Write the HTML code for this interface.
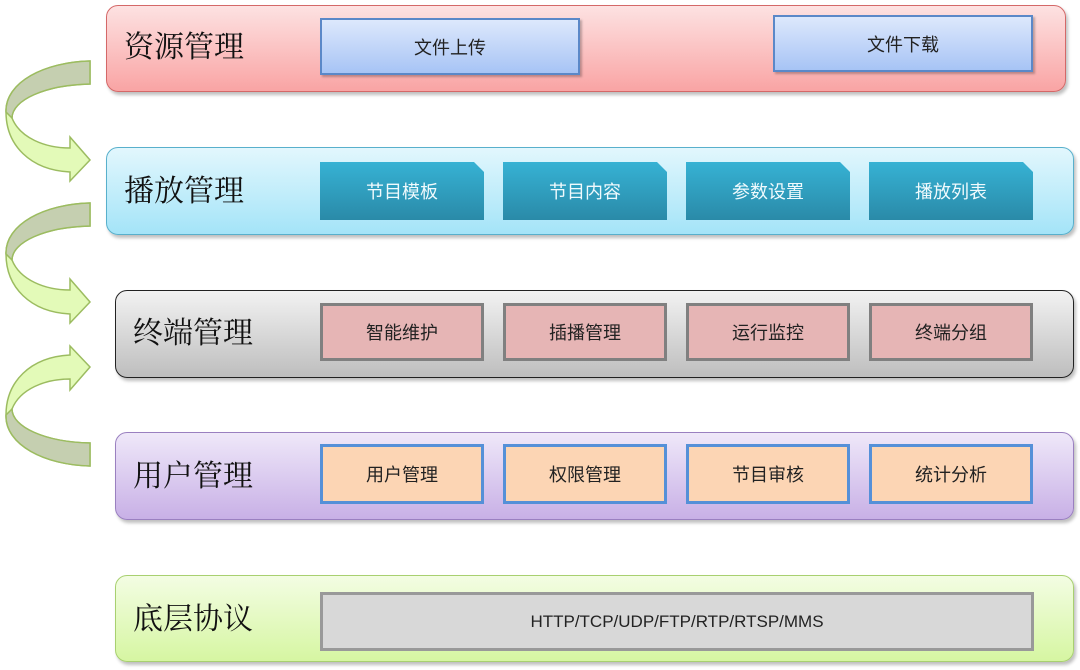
<!DOCTYPE html>
<html><head><meta charset="utf-8"><style>
body{margin:0;width:1080px;height:670px;background:#fff;position:relative;overflow:hidden;font-family:"Liberation Sans","Noto Sans CJK SC",sans-serif}
.row{position:absolute;border-radius:12px;box-shadow:2px 3px 3px rgba(0,0,0,.25)}
.lab{position:absolute;font-family:"Liberation Serif","Noto Serif CJK SC",serif;font-size:30px;color:#111;line-height:1}
.b{position:absolute;display:flex;align-items:center;justify-content:center;font-size:18px;color:#222;box-sizing:border-box}
.blue{background:linear-gradient(#dde8fc,#a7c4f5);border:2px solid #5b88c8;box-shadow:2px 2px 2px rgba(0,0,0,.25)}
.teal{background:linear-gradient(#36b2d4,#2a8aa8);color:#f0fafd;clip-path:polygon(0 0,calc(100% - 10px) 0,100% 10px,100% 100%,0 100%);box-shadow:2px 2px 2px rgba(0,0,0,.3)}
.pink{background:#e6b5b5;border:3px solid #808080}
.org{background:#fcd5b4;border:3px solid #5590d8}
.gray{background:#d8d8d8;border:3px solid #999}
</style></head><body>
<svg width="110" height="670" style="position:absolute;left:0;top:0">
<defs><g id="arr">
<path d="M90,61 C45,62 5,82 6,112 C6,145 30,170 70,172 L70,181 L90,160 L70,137 L70,148 C45,148 20,138 12,118 C12,100 45,85 90,84 Z" fill="#e3fab8" stroke="#9cbc60" stroke-width="1.5"/>
<path d="M90,61 C45,62 5,82 6,112 L12,118 C12,100 45,85 90,84 Z" fill="#c5cfb0" stroke="#9cbc60" stroke-width="1.5"/>
</g></defs>
<use href="#arr"/>
<use href="#arr" transform="translate(0,142)"/>
<use href="#arr" transform="translate(0,527) scale(1,-1)"/>
</svg>

<div class="row" style="left:106px;top:5px;width:958px;height:85px;background:linear-gradient(#fde2e2,#f9a4a4);border:1px solid #d46868"></div>
<div class="lab" style="left:124px;top:33px">资源管理</div>
<div class="b blue" style="left:320px;top:18px;width:260px;height:57px">文件上传</div>
<div class="b blue" style="left:773px;top:15px;width:260px;height:57px">文件下载</div>

<div class="row" style="left:106px;top:147px;width:966px;height:86px;background:linear-gradient(#e2f7fd,#a4e4f8);border:1px solid #58b0cc"></div>
<div class="lab" style="left:124px;top:177px">播放管理</div>
<div class="b teal" style="left:320px;top:162px;width:164px;height:58px">节目模板</div>
<div class="b teal" style="left:503px;top:162px;width:164px;height:58px">节目内容</div>
<div class="b teal" style="left:686px;top:162px;width:164px;height:58px">参数设置</div>
<div class="b teal" style="left:869px;top:162px;width:164px;height:58px">播放列表</div>

<div class="row" style="left:115px;top:290px;width:957px;height:86px;background:linear-gradient(#f2f2f2,#bebebe);border:1.5px solid #222"></div>
<div class="lab" style="left:133px;top:319px">终端管理</div>
<div class="b pink" style="left:320px;top:303px;width:164px;height:58px">智能维护</div>
<div class="b pink" style="left:503px;top:303px;width:164px;height:58px">插播管理</div>
<div class="b pink" style="left:686px;top:303px;width:164px;height:58px">运行监控</div>
<div class="b pink" style="left:869px;top:303px;width:164px;height:58px">终端分组</div>

<div class="row" style="left:115px;top:432px;width:957px;height:86px;background:linear-gradient(#efe8f9,#c8b0e6);border:1px solid #9a80c0"></div>
<div class="lab" style="left:133px;top:462px">用户管理</div>
<div class="b org" style="left:320px;top:444px;width:164px;height:60px">用户管理</div>
<div class="b org" style="left:503px;top:444px;width:164px;height:60px">权限管理</div>
<div class="b org" style="left:686px;top:444px;width:164px;height:60px">节目审核</div>
<div class="b org" style="left:869px;top:444px;width:164px;height:60px">统计分析</div>

<div class="row" style="left:115px;top:575px;width:957px;height:85px;background:linear-gradient(#f3fde3,#d6f6a2);border:1px solid #a8d070"></div>
<div class="lab" style="left:133px;top:605px">底层协议</div>
<div class="b gray" style="left:320px;top:592px;width:714px;height:59px;font-size:17px">HTTP/TCP/UDP/FTP/RTP/RTSP/MMS</div>
</body></html>
